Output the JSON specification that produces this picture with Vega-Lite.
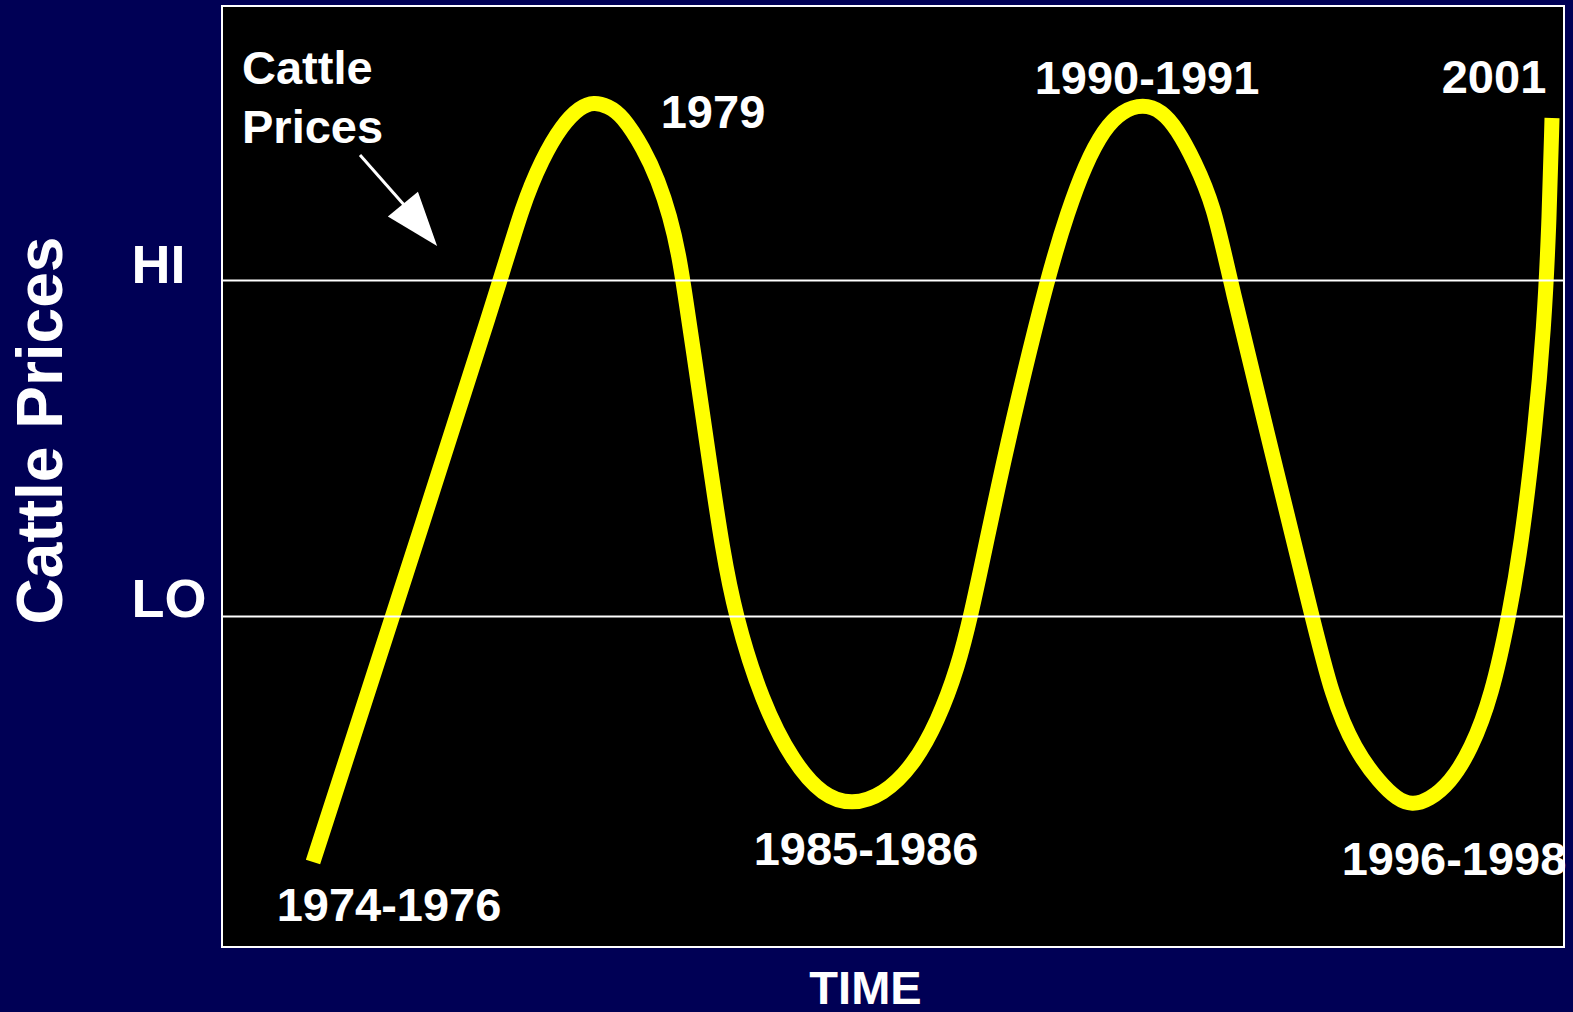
{
  "$schema": "https://vega.github.io/schema/vega-lite/v6.json",
  "width": 1342,
  "height": 941,
  "autosize": {"type": "none"},
  "padding": {"left": 222, "top": 6, "right": 9, "bottom": 65},
  "background": "#000055",
  "config": {
    "view": {"fill": "#000000", "stroke": "#ffffff", "strokeWidth": 2},
    "font": "Liberation Sans"
  },
  "datasets": {
    "curve": [
      {"t": 91, "p": 85}, {"t": 171, "p": 332}, {"t": 280, "p": 671}, {"t": 300, "p": 740},
      {"t": 320, "p": 788}, {"t": 340, "p": 822}, {"t": 358, "p": 840}, {"t": 372, "p": 845},
      {"t": 386, "p": 841}, {"t": 400, "p": 832}, {"t": 422, "p": 798}, {"t": 436, "p": 767},
      {"t": 448, "p": 731}, {"t": 457, "p": 692}, {"t": 464, "p": 646}, {"t": 472, "p": 592},
      {"t": 480, "p": 537}, {"t": 490, "p": 468}, {"t": 500, "p": 401}, {"t": 513, "p": 332},
      {"t": 540, "p": 245}, {"t": 571, "p": 185}, {"t": 601, "p": 151}, {"t": 630, "p": 142},
      {"t": 661, "p": 152}, {"t": 691, "p": 181}, {"t": 716, "p": 226}, {"t": 736, "p": 280},
      {"t": 749, "p": 332}, {"t": 763, "p": 398}, {"t": 775, "p": 455}, {"t": 795, "p": 545},
      {"t": 826, "p": 671}, {"t": 846, "p": 736}, {"t": 863, "p": 782}, {"t": 882, "p": 818},
      {"t": 900, "p": 836}, {"t": 921, "p": 843}, {"t": 940, "p": 836}, {"t": 955, "p": 818},
      {"t": 972, "p": 787}, {"t": 992, "p": 741}, {"t": 1007, "p": 671}, {"t": 1052, "p": 486},
      {"t": 1090, "p": 331}, {"t": 1110, "p": 250}, {"t": 1133, "p": 197}, {"t": 1158, "p": 164},
      {"t": 1175, "p": 148}, {"t": 1190, "p": 142}, {"t": 1207, "p": 147}, {"t": 1228, "p": 164},
      {"t": 1249, "p": 197}, {"t": 1270, "p": 252}, {"t": 1287, "p": 331}, {"t": 1299, "p": 400},
      {"t": 1313, "p": 516}, {"t": 1322, "p": 620}, {"t": 1327, "p": 720}, {"t": 1330, "p": 829}
    ],
    "yearLabels": [
      {"t": 491, "p": 819, "label": "1979"},
      {"t": 925, "p": 853, "label": "1990-1991"},
      {"t": 1272, "p": 854, "label": "2001"},
      {"t": 167, "p": 26, "label": "1974-1976"},
      {"t": 644, "p": 82, "label": "1985-1986"},
      {"t": 1232, "p": 72, "label": "1996-1998"}
    ],
    "seriesLabel": [
      {"t": 20, "p": 863, "label": "Cattle"},
      {"t": 20, "p": 804, "label": "Prices"}
    ],
    "arrow": [
      {"t": 138, "p": 792, "t2": 183, "p2": 741}
    ],
    "arrowHead": [
      {"t": 198, "p": 722}
    ]
  },
  "layer": [
    {
      "data": {"name": "curve"},
      "mark": {"type": "line", "color": "#ffff00", "strokeWidth": 15, "interpolate": "basis", "strokeCap": "butt"},
      "encoding": {
        "x": {
          "field": "t", "type": "quantitative",
          "scale": {"domain": [0, 1342], "nice": false, "zero": false},
          "axis": {
            "title": "TIME", "labels": false, "ticks": false, "domain": false, "grid": false,
            "titleFont": "Liberation Sans", "titleFontWeight": "bold", "titleFontSize": 47,
            "titleColor": "#ffffff", "titleX": 643, "titleY": 56, "titleAlign": "center",
            "titleBaseline": "alphabetic"
          }
        },
        "y": {
          "field": "p", "type": "quantitative",
          "scale": {"domain": [0, 941], "nice": false, "zero": false},
          "axis": {
            "title": "Cattle Prices", "values": [331, 667],
            "labelExpr": "datum.value > 500 ? 'HI' : 'LO'",
            "ticks": false, "tickSize": 0, "domain": false, "grid": true,
            "gridColor": "#ffffff", "gridWidth": 2, "gridOpacity": 1,
            "zindex": 1,
            "labelFont": "Liberation Sans", "labelFontWeight": "bold", "labelFontSize": 54,
            "labelColor": "#ffffff", "labelAlign": "left", "labelBaseline": "alphabetic",
            "labelPadding": 91,
            "labelOffset": {"condition": {"test": "datum.value > 500", "value": 2}, "value": 0},
            "labelFlush": false, "labelOverlap": false,
            "titleFont": "Liberation Sans", "titleFontWeight": "bold", "titleFontSize": 64,
            "titleColor": "#ffffff", "titleAngle": -90, "titleX": -161, "titleY": 424,
            "titleAlign": "center", "titleBaseline": "alphabetic"
          }
        }
      }
    },
    {
      "data": {"name": "yearLabels"},
      "mark": {"type": "text", "color": "#ffffff", "font": "Liberation Sans", "fontWeight": "bold", "fontSize": 47, "align": "center", "baseline": "alphabetic"},
      "encoding": {
        "x": {"field": "t", "type": "quantitative"},
        "y": {"field": "p", "type": "quantitative"},
        "text": {"field": "label"}
      }
    },
    {
      "data": {"name": "seriesLabel"},
      "mark": {"type": "text", "color": "#ffffff", "font": "Liberation Sans", "fontWeight": "bold", "fontSize": 47, "align": "left", "baseline": "alphabetic"},
      "encoding": {
        "x": {"field": "t", "type": "quantitative"},
        "y": {"field": "p", "type": "quantitative"},
        "text": {"field": "label"}
      }
    },
    {
      "data": {"name": "arrow"},
      "mark": {"type": "rule", "color": "#ffffff", "strokeWidth": 3},
      "encoding": {
        "x": {"field": "t", "type": "quantitative"},
        "y": {"field": "p", "type": "quantitative"},
        "x2": {"field": "t2"},
        "y2": {"field": "p2"}
      }
    },
    {
      "data": {"name": "arrowHead"},
      "mark": {"type": "point", "shape": "M-0.72,-1L0.72,-1L0,1Z", "size": 2916, "angle": -39.3, "filled": true, "color": "#ffffff", "opacity": 1, "strokeWidth": 0},
      "encoding": {
        "x": {"field": "t", "type": "quantitative"},
        "y": {"field": "p", "type": "quantitative"}
      }
    }
  ]
}
